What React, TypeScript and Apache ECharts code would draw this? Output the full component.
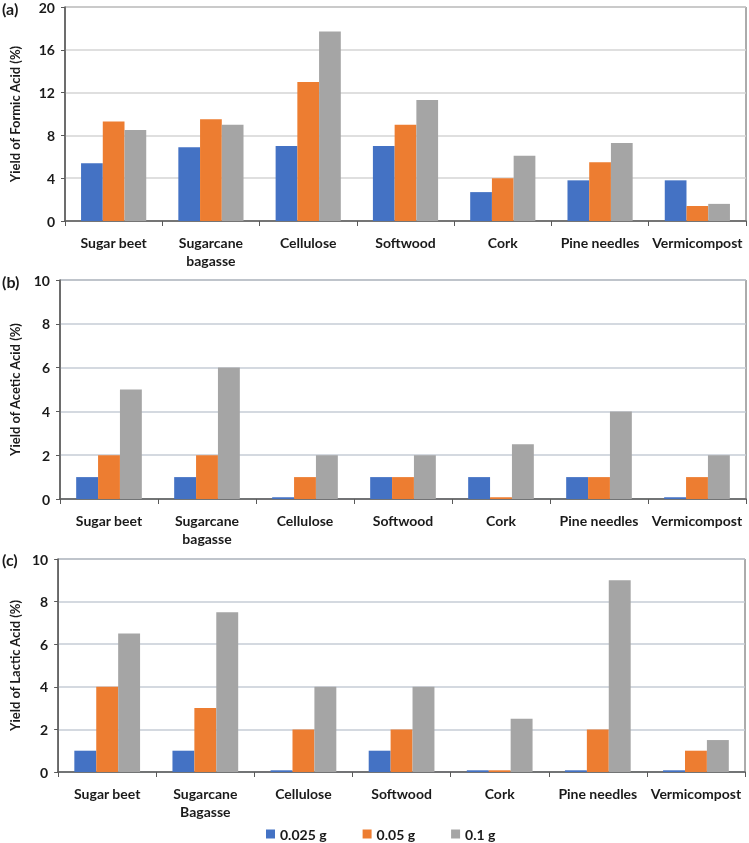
import React, { useEffect, useRef } from "react";
import * as echarts from "echarts";

const categoriesAB = ["Sugar beet", "Sugarcane\nbagasse", "Cellulose", "Softwood", "Cork", "Pine needles", "Vermicompost"];
const categoriesC = ["Sugar beet", "Sugarcane\nBagasse", "Cellulose", "Softwood", "Cork", "Pine needles", "Vermicompost"];
const seriesNames = ["0.025 g", "0.05 g", "0.1 g"];
const colors = ["#4472C4", "#ED7D31", "#A5A5A5"];

const formic025 = [5.4, 6.9, 7.0, 7.0, 2.7, 3.8, 3.8];
const formic05 = [9.3, 9.5, 13.0, 9.0, 4.0, 5.5, 1.4];
const formic1 = [8.5, 9.0, 17.7, 11.3, 6.1, 7.3, 1.6];

const acetic025 = [1, 1, 0.08, 1, 1, 1, 0.08];
const acetic05 = [2, 2, 1, 1, 0.08, 1, 1];
const acetic1 = [5, 6, 2, 2, 2.5, 4, 2];

const lactic025 = [1, 1, 0.08, 1, 0.08, 0.08, 0.08];
const lactic05 = [4, 3, 2, 2, 0.08, 2, 1];
const lactic1 = [6.5, 7.5, 4, 4, 2.5, 9, 1.5];

const yNames = ["Yield of Formic Acid (%)", "Yield of Acetic Acid (%)", "Yield of Lactic Acid (%)"];
const panelTags = ["(a)", "(b)", "(c)"];

const FONT = "Lato";

export default function App() {
  const ref = useRef<HTMLDivElement>(null);
  useEffect(() => {
    if (!ref.current) return;
    const chart = echarts.init(ref.current, null, { renderer: "svg" });
    const grids = [
      { left: 59, top: 7, width: 687, height: 214 },
      { left: 54, top: 280, width: 692, height: 219 },
      { left: 52, top: 559, width: 693, height: 213 },
    ];
    const yMax = [20, 10, 10];
    const yInt = [4, 2, 2];
    const gridColors = ["#d4d4d4", "#c6ccd6", "#c6ccd6"];
    const nameGaps = [44, 39, 37];
    const cats = [categoriesAB, categoriesAB, categoriesC];
    const data = [
      [formic025, formic05, formic1],
      [acetic025, acetic05, acetic1],
      [lactic025, lactic05, lactic1],
    ];
    const series: any[] = [];
    data.forEach((panel, p) => {
      panel.forEach((vals, s) => {
        series.push({
          type: "bar",
          name: seriesNames[s],
          xAxisIndex: p,
          yAxisIndex: p,
          data: vals,
          barGap: "0%",
          barCategoryGap: "33%",
          itemStyle: { color: colors[s] },
        });
      });
    });
    chart.setOption({
      animation: false,
      textStyle: { fontFamily: FONT },
      grid: grids.map((g) => ({ ...g, show: true, borderColor: "#595959", borderWidth: 1, backgroundColor: "transparent" })),
      xAxis: cats.map((c, i) => ({
        type: "category",
        gridIndex: i,
        data: c,
        axisLine: { lineStyle: { color: "#595959", width: 1.5 } },
        axisTick: { show: true, length: 5, interval: 0, lineStyle: { color: "#595959" } },
        axisLabel: { interval: 0, color: "#1a1a1a", fontWeight: "bold", fontSize: 14, fontFamily: FONT, margin: 12, lineHeight: 18 },
      })),
      yAxis: yMax.map((m, i) => ({
        type: "value",
        gridIndex: i,
        min: 0,
        max: m,
        interval: yInt[i],
        name: yNames[i],
        nameLocation: "middle",
        nameGap: nameGaps[i],
        nameTextStyle: { color: "#1a1a1a", fontWeight: "bold", fontSize: 13, fontFamily: FONT },
        axisLine: { show: true, lineStyle: { color: "#595959", width: 1.5 } },
        axisTick: { show: true, length: 4, lineStyle: { color: "#595959" } },
        axisLabel: { color: "#1a1a1a", fontWeight: "bold", fontSize: 14, fontFamily: FONT, margin: 10 },
        splitLine: { show: true, lineStyle: { color: gridColors[i], width: 1.5 } },
      })),
      legend: {
        data: seriesNames,
        left: 266,
        top: 827,
        icon: "rect",
        itemWidth: 9,
        itemHeight: 9,
        itemGap: 36,
        padding: 0,
        textStyle: { color: "#1a1a1a", fontWeight: "bold", fontSize: 14, lineHeight: 14, fontFamily: FONT },
      },
      graphic: [
        { type: "text", left: 2, top: 0, style: { text: panelTags[0], fontSize: 16, fontWeight: "bold", fontFamily: FONT, fill: "#1a1a1a" } },
        { type: "text", left: 2, top: 273, style: { text: panelTags[1], fontSize: 16, fontWeight: "bold", fontFamily: FONT, fill: "#1a1a1a" } },
        { type: "text", left: 2, top: 551, style: { text: panelTags[2], fontSize: 16, fontWeight: "bold", fontFamily: FONT, fill: "#1a1a1a" } },
      ],
      series,
    });
    return () => chart.dispose();
  }, []);
  return <div ref={ref} style={{ position: "fixed", left: 0, top: 0, width: 749, height: 843 }} />;
}
